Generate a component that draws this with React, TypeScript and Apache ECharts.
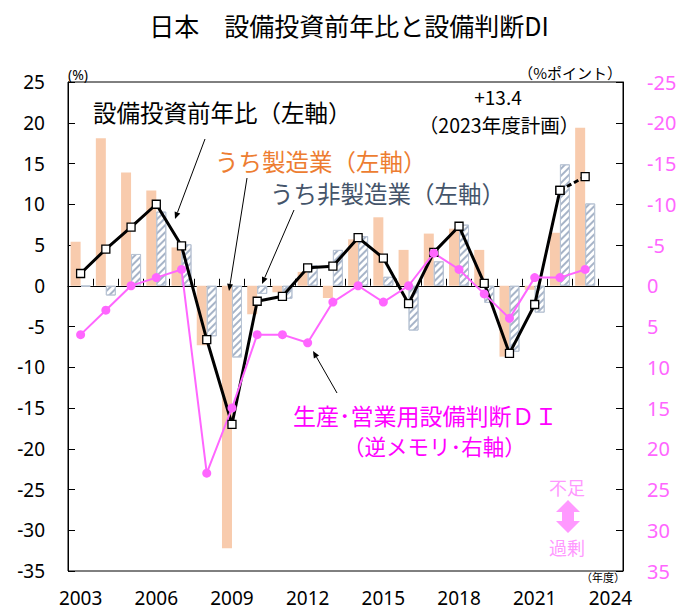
import React, { useEffect, useRef } from 'react';
import * as echarts from 'echarts';

// ---- data ----
const years = ['2003', '2004', '2005', '2006', '2007', '2008', '2009', '2010', '2011', '2012', '2013', '2014', '2015', '2016', '2017', '2018', '2019', '2020', '2021', '2022', '2023', '2024'];
const totalCapex = [1.5, 4.5, 7.2, 10.0, 4.9, -6.6, -17.0, -1.9, -1.3, 2.2, 2.4, 5.9, 3.4, -2.2, 4.1, 7.3, 0.3, -8.3, -2.3, 11.7, 13.4];
const manufacturing = [5.4, 18.1, 13.9, 11.7, 4.7, -7.3, -32.2, -3.5, -0.8, 1.7, -1.5, 5.7, 8.4, 4.4, 6.4, 7.0, 4.4, -8.7, -0.5, 6.5, 19.4];
const nonManufacturing = [-0.1, -1.2, 3.9, 9.1, 5.1, -6.2, -8.8, -1.0, -1.6, 2.5, 4.4, 6.1, 1.1, -5.5, 3.0, 7.5, -2.1, -8.1, -3.3, 14.9, 10.1];
const equipmentDI = [6, 3, 0, -1, -2, 23, 15, 6, 6, 7, 2, 0, 2, 0, -4, -2, 1, 4, -1, -1, -2];
const leftTicks = { min: -35, max: 25, interval: 5 };
const rightTicks = { min: -25, max: 35, interval: 5 };

const CJK = '"Noto Sans CJK JP", sans-serif';
const NUM = '"Noto Sans", "Noto Sans CJK JP", sans-serif';
const PINK = '#FF66FF';

function arrow(x1: number, y1: number, x2: number, y2: number) {
  const dx = x2 - x1;
  const dy = y2 - y1;
  const len = Math.sqrt(dx * dx + dy * dy);
  const ux = dx / len;
  const uy = dy / len;
  const hl = 7;
  const hw = 3;
  const bx = x2 - ux * hl;
  const by = y2 - uy * hl;
  return [
    { type: 'line', shape: { x1, y1, x2: bx, y2: by }, style: { stroke: '#000', lineWidth: 1 }, z: 100 },
    {
      type: 'polygon',
      shape: { points: [[x2, y2], [bx - uy * hw, by + ux * hw], [bx + uy * hw, by - ux * hw]] },
      style: { fill: '#000' },
      z: 100,
    },
  ];
}

function txt(text: string, x: number, y: number, size: number, fill: string, align = 'left', font = CJK) {
  return {
    type: 'text',
    x,
    y,
    z: 100,
    style: { text, fontSize: size, fontFamily: font, fill, align, verticalAlign: 'middle', lineHeight: size },
  };
}

export default function App() {
  const ref = useRef<HTMLDivElement>(null);
  useEffect(() => {
    const chart = echarts.init(ref.current!, null, { renderer: 'svg' });
    const n = totalCapex.length;
    const solid = totalCapex.map((v, i) => (i < n - 1 ? v : null));
    const dashed = totalCapex.map((v, i) => (i >= n - 2 ? v : null));

    const option: any = {
      animation: false,
      backgroundColor: '#fff',
      grid: { left: 68, right: 67, top: 82, bottom: 39, show: true, borderColor: '#000', borderWidth: 1, backgroundColor: 'transparent' },
      xAxis: [
        {
          type: 'category',
          data: years,
          position: 'bottom',
          axisLine: { onZero: true, lineStyle: { color: '#000', width: 1 } },
          axisTick: { show: true, inside: true, length: 7, interval: 0, lineStyle: { color: '#000' } },
          axisLabel: { show: false },
        },
        {
          type: 'category',
          data: years,
          position: 'bottom',
          axisLine: { show: false, onZero: false },
          axisTick: { show: false },
          axisLabel: { show: true, interval: 2, fontSize: 19, lineHeight: 19, color: '#000', fontFamily: NUM, margin: 17 },
        },
      ],
      yAxis: [
        {
          type: 'value',
          position: 'left',
          min: leftTicks.min,
          max: leftTicks.max,
          interval: leftTicks.interval,
          axisLine: { show: true, lineStyle: { color: '#000' } },
          axisTick: { show: true, inside: true, length: 7, lineStyle: { color: '#000' } },
          axisLabel: { fontSize: 19, color: '#000', fontFamily: NUM, margin: 23 },
          splitLine: { show: false },
        },
        {
          type: 'value',
          position: 'right',
          inverse: true,
          min: rightTicks.min,
          max: rightTicks.max,
          interval: rightTicks.interval,
          axisLine: { show: true, lineStyle: { color: '#000' } },
          axisTick: { show: true, inside: true, length: 7, lineStyle: { color: '#000' } },
          axisLabel: { fontSize: 20, color: PINK, fontFamily: NUM, margin: 24 },
          splitLine: { show: false },
        },
      ],
      series: [
        {
          type: 'bar',
          name: 'うち製造業',
          data: manufacturing,
          barWidth: 10,
          barGap: '0%',
          itemStyle: { color: '#F8CBAD' },
        },
        {
          type: 'bar',
          name: 'うち非製造業',
          data: nonManufacturing,
          barWidth: 10,
          barGap: '0%',
          itemStyle: {
            color: '#ffffff',
            borderColor: '#B9C4D4',
            borderWidth: 1,
            decal: {
              symbol: 'rect',
              symbolSize: 1,
              dashArrayX: [1, 0],
              dashArrayY: [1.5, 3],
              rotation: -Math.PI / 4,
              color: '#A7B4C8',
            },
          },
        },
        {
          type: 'line',
          name: '設備投資前年比',
          data: solid,
          symbol: 'rect',
          symbolSize: 8,
          lineStyle: { color: '#000', width: 3 },
          itemStyle: { color: '#fff', borderColor: '#000', borderWidth: 1.3 },
        },
        {
          type: 'line',
          name: '設備投資前年比(計画)',
          data: dashed,
          symbol: 'rect',
          symbolSize: 8,
          lineStyle: { color: '#000', width: 3, type: [5, 3] },
          itemStyle: { color: '#fff', borderColor: '#000', borderWidth: 1.3 },
        },
        {
          type: 'line',
          name: '生産・営業用設備判断DI',
          yAxisIndex: 1,
          data: equipmentDI,
          symbol: 'circle',
          symbolSize: 9,
          lineStyle: { color: PINK, width: 2 },
          itemStyle: { color: PINK },
        },
      ],
      graphic: [
        txt('日本　設備投資前年比と設備判断DI', 349, 25, 25, '#000', 'center'),
        txt('(%)', 68, 74, 14, '#000', 'left', NUM),
        txt('（%ポイント）', 622, 72, 15, '#000', 'right'),
        txt('（年度）', 625, 577, 11, '#000', 'right'),
        txt('設備投資前年比（左軸）', 93, 112, 23.5, '#000'),
        txt('うち製造業（左軸）', 215, 161, 23.5, '#ED7D31'),
        txt('うち非製造業（左軸）', 270, 193, 23.5, '#44546A'),
        txt('+13.4', 498, 96, 19, '#000', 'center'),
        txt('（2023年度計画）', 499, 124, 19.5, '#000', 'center'),
        txt('生産･営業用設備判断ＤＩ', 293, 415, 23, '#FF00FF'),
        txt('（逆メモリ･右軸）', 343, 445, 21.5, '#FF00FF'),
        txt('不足', 567, 487, 18, '#FF99FF', 'center'),
        txt('過剰', 567, 547, 18, '#FF99FF', 'center'),
        {
          type: 'polygon',
          z: 100,
          shape: {
            points: [[568, 500], [580, 512], [574, 512], [574, 521], [580, 521], [568, 533], [556, 521], [562, 521], [562, 512], [556, 512]],
          },
          style: { fill: '#FF99FF' },
        },
        ...arrow(205, 139, 175, 219),
        ...arrow(247, 178, 229, 291),
        ...arrow(294, 210, 262, 284),
        ...arrow(337, 393, 313, 351),
      ],
    };
    chart.setOption(option);
    return () => chart.dispose();
  }, []);
  return <div ref={ref} style={{ position: 'fixed', left: 0, top: 0, width: 690, height: 610, background: '#fff' }} />;
}
